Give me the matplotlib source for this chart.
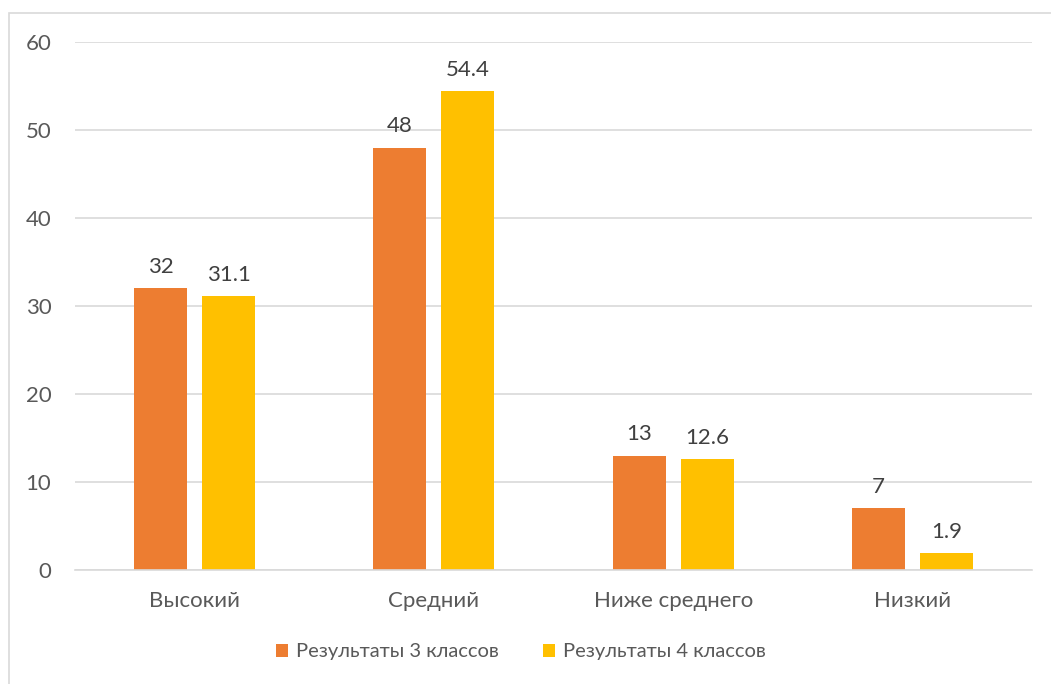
import numpy as np
import matplotlib.pyplot as plt
from matplotlib.patches import Rectangle

categories = ['Высокий', 'Средний', 'Ниже среднего', 'Низкий']
results_3 = [32, 48, 13, 7]
results_4 = [31.1, 54.4, 12.6, 1.9]
labels_3 = ['32', '48', '13', '7']
labels_4 = ['31.1', '54.4', '12.6', '1.9']
series_names = ['Результаты 3 классов', 'Результаты 4 классов']

plt.rcParams['font.family'] = ['Lato', 'DejaVu Sans']
text_color = '#595959'

fig = plt.figure(figsize=(10.51, 6.84), dpi=100)
ax = fig.add_axes([75 / 1051, 1 - 570 / 684, 957 / 1051, 528 / 684])

# chart frame like in Excel
fig.patches.append(Rectangle((9 / 1051, -0.1), 1.2, 1.1 - 13 / 684, transform=fig.transFigure,
                             fill=False, edgecolor='#D9D9D9', linewidth=1.2))

x = np.arange(len(categories))
w = 0.222
off = 0.142
b3 = ax.bar(x - off, results_3, w, color='#ED7D31', label=series_names[0], zorder=3)
b4 = ax.bar(x + off, results_4, w, color='#FFC000', label=series_names[1], zorder=3)

for bars, labs in [(b3, labels_3), (b4, labels_4)]:
    for rect, lab in zip(bars, labs):
        ax.annotate(lab, (rect.get_x() + rect.get_width() / 2, rect.get_height()),
                    xytext=(0, 8), textcoords='offset points', ha='center', va='bottom',
                    fontsize=16, color='#404040')

ax.set_xlim(-0.5, 3.5)
ax.set_ylim(0, 60)
ax.set_yticks(range(0, 61, 10))
ax.set_xticks(x)
ax.set_xticklabels(categories)
ax.yaxis.grid(True, color='#D9D9D9', linewidth=1.2, zorder=0)
for s in ['top', 'right', 'left']:
    ax.spines[s].set_visible(False)
ax.spines['bottom'].set_color('#D9D9D9')
ax.spines['bottom'].set_linewidth(1.2)
ax.spines['bottom'].set_zorder(4)
ax.tick_params(axis='both', length=0, labelsize=16, labelcolor=text_color)
ax.tick_params(axis='y', pad=17)
ax.tick_params(axis='x', pad=15)

leg = fig.legend(loc='center', bbox_to_anchor=(521 / 1051, 1 - 652 / 684), ncol=2, frameon=False,
                 fontsize=14.5, handlelength=0.6, handleheight=0.6, handletextpad=0.4,
                 columnspacing=2.2)
for t in leg.get_texts():
    t.set_color(text_color)

fig.savefig('out.png', dpi=100)
